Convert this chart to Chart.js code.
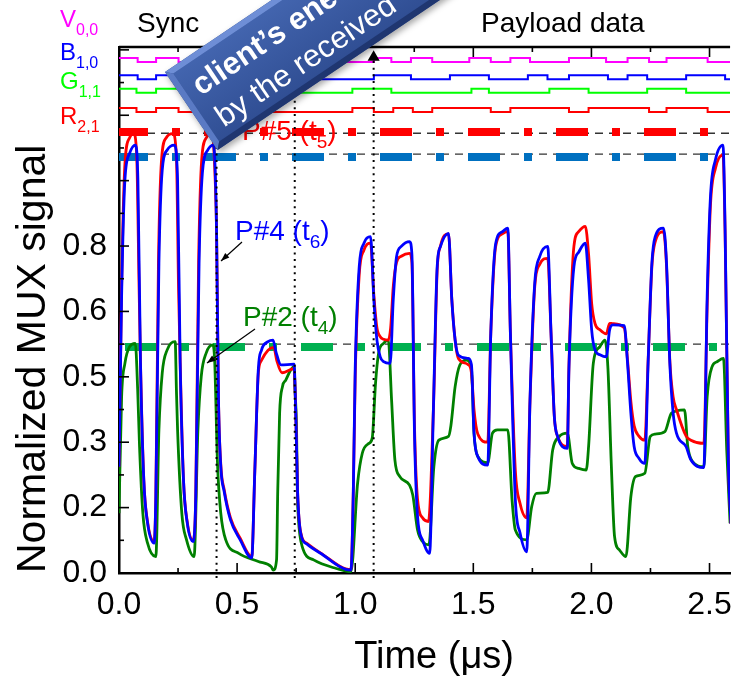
<!DOCTYPE html>
<html>
<head>
<meta charset="utf-8">
<script src="https://cdn.jsdelivr.net/npm/chart.js@4.4.1/dist/chart.umd.min.js"></script>
<style>
  html, body { margin: 0; padding: 0; background: #fff; }
</style>
</head>
<body>
<canvas id="myChart" width="745" height="680"></canvas>
<script>
// 軸刻度
const xTickValues = [0, 0.5, 1.0, 1.5, 2.0, 2.5];
const xTickLabels = ['0.0', '0.5', '1.0', '1.5', '2.0', '2.5'];
const yTickValues = [0, 0.16, 0.32, 0.48, 0.64, 0.80];
const yTickLabels = ['0.0', '0.2', '0.3', '0.5', '0.6', '0.8'];

// 藍色通道 (B) 接收訊號
const blueT = [0, 0.011, 0.025, 0.045, 0.069, 0.080, 0.091, 0.105, 0.121, 0.149, 0.156, 0.169, 0.183, 0.204, 0.234, 0.248, 0.259, 0.273, 0.289, 0.314, 0.325, 0.339, 0.353, 0.376, 0.400, 0.413, 0.421, 0.431, 0.445, 0.472, 0.513, 0.562, 0.575, 0.590, 0.603, 0.631, 0.652, 0.665, 0.686, 0.741, 0.748, 0.756, 0.769, 0.797, 0.851, 0.982, 0.992, 1.000, 1.017, 1.037, 1.065, 1.079, 1.092, 1.106, 1.120, 1.148, 1.161, 1.175, 1.195, 1.230, 1.240, 1.251, 1.264, 1.285, 1.315, 1.331, 1.347, 1.361, 1.395, 1.409, 1.423, 1.437, 1.478, 1.492, 1.503, 1.519, 1.561, 1.574, 1.595, 1.623, 1.646, 1.657, 1.678, 1.698, 1.726, 1.740, 1.760, 1.781, 1.815, 1.829, 1.843, 1.857, 1.898, 1.905, 1.926, 1.946, 1.974, 1.988, 2.001, 2.015, 2.036, 2.063, 2.077, 2.091, 2.139, 2.153, 2.167, 2.181, 2.201, 2.226, 2.240, 2.256, 2.270, 2.305, 2.318, 2.332, 2.346, 2.360, 2.401, 2.421, 2.476, 2.490, 2.504, 2.525, 2.557, 2.566, 2.580, 2.591];
const blueV = [0.26, 0.676, 0.962, 1.027, 1.047, 0.962, 0.514, 0.228, 0.122, 0.073, 0.187, 0.759, 0.986, 1.035, 1.047, 0.962, 0.514, 0.228, 0.122, 0.077, 0.187, 0.759, 0.979, 1.035, 1.047, 0.839, 0.431, 0.26, 0.20, 0.13, 0.081, 0.037, 0.25, 0.50, 0.545, 0.566, 0.570, 0.54, 0.509, 0.511, 0.40, 0.20, 0.098, 0.07, 0.049, 0.007, 0.2, 0.5, 0.75, 0.807, 0.823, 0.668, 0.570, 0.529, 0.517, 0.513, 0.668, 0.774, 0.799, 0.811, 0.78, 0.342, 0.138, 0.081, 0.048, 0.4, 0.75, 0.799, 0.831, 0.668, 0.570, 0.533, 0.525, 0.51, 0.342, 0.285, 0.264, 0.587, 0.807, 0.835, 0.844, 0.587, 0.179, 0.098, 0.052, 0.423, 0.709, 0.774, 0.799, 0.587, 0.383, 0.334, 0.305, 0.505, 0.75, 0.785, 0.807, 0.717, 0.595, 0.546, 0.534, 0.529, 0.595, 0.607, 0.605, 0.513, 0.391, 0.309, 0.281, 0.268, 0.513, 0.758, 0.823, 0.844, 0.758, 0.513, 0.391, 0.342, 0.309, 0.277, 0.258, 0.676, 0.921, 1.011, 1.047, 0.839, 0.268, 0.12];

// 紅色通道 (R) 接收訊號
const redT = [0, 0.011, 0.025, 0.045, 0.062, 0.075, 0.085, 0.091, 0.105, 0.121, 0.149, 0.156, 0.167, 0.180, 0.200, 0.228, 0.243, 0.252, 0.259, 0.273, 0.289, 0.314, 0.325, 0.337, 0.350, 0.370, 0.395, 0.408, 0.413, 0.421, 0.431, 0.445, 0.472, 0.513, 0.562, 0.575, 0.590, 0.603, 0.631, 0.655, 0.668, 0.690, 0.741, 0.748, 0.756, 0.769, 0.797, 0.851, 0.982, 0.992, 1.000, 1.017, 1.037, 1.065, 1.079, 1.092, 1.106, 1.120, 1.140, 1.150, 1.161, 1.175, 1.195, 1.230, 1.240, 1.251, 1.264, 1.285, 1.310, 1.331, 1.347, 1.361, 1.395, 1.409, 1.423, 1.437, 1.478, 1.492, 1.503, 1.519, 1.561, 1.574, 1.595, 1.623, 1.646, 1.657, 1.678, 1.698, 1.726, 1.740, 1.760, 1.781, 1.815, 1.829, 1.843, 1.857, 1.898, 1.905, 1.926, 1.946, 1.974, 1.988, 2.001, 2.015, 2.036, 2.063, 2.077, 2.091, 2.139, 2.153, 2.167, 2.181, 2.201, 2.226, 2.240, 2.256, 2.270, 2.305, 2.318, 2.332, 2.346, 2.360, 2.401, 2.421, 2.476, 2.490, 2.504, 2.525, 2.557, 2.566, 2.580, 2.591];
const redV = [0.26, 0.70, 1.00, 1.065, 1.075, 1.02, 0.70, 0.514, 0.228, 0.125, 0.078, 0.19, 0.76, 1.01, 1.065, 1.075, 1.02, 0.70, 0.514, 0.228, 0.125, 0.08, 0.19, 0.76, 1.01, 1.065, 1.075, 0.95, 0.839, 0.431, 0.265, 0.205, 0.135, 0.085, 0.04, 0.25, 0.49, 0.52, 0.545, 0.552, 0.52, 0.49, 0.50, 0.40, 0.20, 0.10, 0.072, 0.05, 0.008, 0.2, 0.48, 0.73, 0.79, 0.807, 0.68, 0.60, 0.578, 0.572, 0.570, 0.60, 0.70, 0.76, 0.775, 0.782, 0.76, 0.36, 0.18, 0.135, 0.126, 0.40, 0.74, 0.80, 0.83, 0.67, 0.57, 0.525, 0.51, 0.49, 0.40, 0.34, 0.32, 0.587, 0.80, 0.83, 0.836, 0.587, 0.25, 0.17, 0.135, 0.42, 0.70, 0.755, 0.770, 0.587, 0.383, 0.334, 0.31, 0.51, 0.80, 0.835, 0.848, 0.78, 0.66, 0.611, 0.595, 0.585, 0.611, 0.61, 0.60, 0.52, 0.42, 0.36, 0.335, 0.325, 0.52, 0.75, 0.81, 0.835, 0.75, 0.52, 0.431, 0.40, 0.335, 0.325, 0.317, 0.65, 0.90, 0.99, 1.023, 0.83, 0.27, 0.12];

// 綠色通道 (G) 接收訊號
const greenT = [0, 0.011, 0.025, 0.045, 0.069, 0.079, 0.087, 0.101, 0.121, 0.156, 0.169, 0.183, 0.204, 0.238, 0.243, 0.248, 0.266, 0.286, 0.318, 0.334, 0.348, 0.369, 0.397, 0.405, 0.417, 0.431, 0.452, 0.507, 0.590, 0.645, 0.653, 0.667, 0.672, 0.680, 0.692, 0.706, 0.727, 0.741, 0.745, 0.752, 0.755, 0.759, 0.776, 0.824, 0.920, 0.982, 1.010, 1.030, 1.058, 1.072, 1.086, 1.099, 1.120, 1.140, 1.154, 1.168, 1.189, 1.230, 1.244, 1.264, 1.285, 1.312, 1.333, 1.354, 1.395, 1.405, 1.423, 1.443, 1.471, 1.492, 1.503, 1.519, 1.561, 1.581, 1.602, 1.646, 1.664, 1.678, 1.726, 1.747, 1.767, 1.815, 1.836, 1.864, 1.898, 1.919, 1.946, 1.978, 1.988, 2.008, 2.036, 2.057, 2.070, 2.084, 2.098, 2.119, 2.146, 2.167, 2.187, 2.226, 2.249, 2.270, 2.311, 2.339, 2.394, 2.408, 2.429, 2.476, 2.490, 2.511, 2.532, 2.559, 2.573, 2.587];
const greenV = [0.146, 0.431, 0.513, 0.554, 0.562, 0.45, 0.309, 0.146, 0.073, 0.040, 0.350, 0.489, 0.546, 0.566, 0.45, 0.350, 0.146, 0.081, 0.040, 0.350, 0.480, 0.538, 0.558, 0.52, 0.268, 0.146, 0.081, 0.048, 0.028, 0.015, 0.007, 0.032, 0.20, 0.391, 0.456, 0.472, 0.497, 0.505, 0.45, 0.342, 0.20, 0.138, 0.064, 0.032, 0.011, 0.003, 0.219, 0.293, 0.317, 0.330, 0.464, 0.538, 0.562, 0.570, 0.423, 0.277, 0.236, 0.215, 0.19, 0.105, 0.077, 0.069, 0.26, 0.325, 0.334, 0.36, 0.456, 0.509, 0.521, 0.50, 0.342, 0.285, 0.27, 0.342, 0.350, 0.350, 0.179, 0.105, 0.081, 0.162, 0.195, 0.197, 0.301, 0.334, 0.342, 0.268, 0.256, 0.252, 0.309, 0.513, 0.554, 0.570, 0.50, 0.268, 0.089, 0.056, 0.040, 0.187, 0.236, 0.244, 0.334, 0.340, 0.346, 0.391, 0.399, 0.309, 0.272, 0.260, 0.431, 0.505, 0.517, 0.525, 0.30, 0.122];

// 頂部數位位元 (轉換時間與位準)
const bitEdgesV = [0, 0.079, 0.157, 0.252, 1.079, 1.153, 1.236, 1.326, 1.483, 1.574, 1.657, 1.740, 1.905, 2.062, 2.153, 2.244, 2.318, 2.492];
const bitsV     = [1, 0, 1, 0, 1, 0, 1, 0, 1, 0, 1, 0, 1, 0, 1, 0, 1, 0];
const bitEdgesB = [0, 0.079, 0.157, 0.335, 1.079, 1.236, 1.401, 1.566, 1.731, 1.814, 1.905, 2.070, 2.153, 2.236, 2.401, 2.566];
const bitsB     = [1, 0, 1, 0, 1, 0, 1, 0, 1, 0, 1, 0, 1, 0, 1, 0];
const bitEdgesG = [0, 0.074, 0.157, 0.335, 0.988, 1.153, 1.492, 1.566, 1.822, 1.988, 2.236, 2.401];
const bitsG     = [1, 0, 1, 0, 1, 0, 1, 0, 1, 0, 1, 0];
const bitEdgesR = [0, 0.074, 0.157, 0.252, 0.988, 1.079, 1.161, 1.244, 1.326, 1.574, 1.657, 1.905, 1.988, 2.244, 2.318, 2.492];
const bitsR     = [1, 0, 1, 0, 1, 0, 1, 0, 1, 0, 1, 0, 1, 0, 1, 0];

// 判決門檻與標記時間
const thresholdLevels = [1.076, 1.025, 0.560];
const decisionLevels = [1.079, 1.018, 0.553];
const markerTimes = [0.413, 0.744, 1.078];

const X_MAX = 2.587;
const Y_MAX = 1.287;
const FONT = 'Liberation Sans, Arial, sans-serif';

function pts(ts, vs) {
  return ts.map((t, i) => ({ x: t, y: vs[i] }));
}
function bitPts(edges, bits, base) {
  const p = edges.map((t, i) => ({ x: t, y: base + bits[i] * 0.0098 }));
  p.push({ x: X_MAX, y: p[p.length - 1].y });
  return p;
}
function flat(y) {
  return [{ x: 0, y: y }, { x: X_MAX, y: y }];
}

const curve = (data, color, order) => ({
  data: data, showLine: true, borderColor: color, borderWidth: 2.8,
  pointRadius: 0, cubicInterpolationMode: 'monotone', order: order
});
const bitLine = (data, color) => ({
  data: data, showLine: true, stepped: true, borderColor: color, borderWidth: 2,
  pointRadius: 0, order: 8
});
const decision = (y, color, offset) => ({
  data: flat(y), showLine: true, borderColor: color, borderWidth: 8,
  borderDash: [32, 24, 8, 24], borderDashOffset: offset, borderCapStyle: 'butt',
  pointRadius: 0, order: 6
});

const datasets = [
  // 垂直標記線
  ...markerTimes.map((t, i) => ({
    data: [{ x: t, y: -0.012 }, { x: t, y: i === 2 ? 1.262 : 1.158 }],
    showLine: true, borderColor: '#000', borderWidth: 2, borderDash: [2, 4.6],
    pointRadius: i === 2 ? [0, 5] : 0, pointStyle: 'triangle',
    pointBackgroundColor: '#000', pointBorderColor: '#000', clip: false, order: 0
  })),
  curve(pts(blueT, blueV), '#0000FF', 1),
  curve(pts(redT, redV), '#FF0000', 2),
  curve(pts(greenT, greenV), '#008000', 3),
  decision(decisionLevels[0], '#FF0000', 3),
  decision(decisionLevels[1], '#0070C0', 3),
  decision(decisionLevels[2], '#00B050', 82),
  ...thresholdLevels.map(y => ({
    data: flat(y), showLine: true, borderColor: '#333', borderWidth: 1.4,
    borderDash: [8, 6], pointRadius: 0, order: 7
  })),
  bitLine(bitPts(bitEdgesV, bitsV, 1.250), '#FF00FF'),
  bitLine(bitPts(bitEdgesB, bitsB, 1.208), '#0000FF'),
  bitLine(bitPts(bitEdgesG, bitsG, 1.175), '#00FF00'),
  bitLine(bitPts(bitEdgesR, bitsR, 1.128), '#FF0000')
];

function lab(values, labels, v) {
  const i = values.findIndex(x => Math.abs(x - v) < 1e-6);
  return i >= 0 ? labels[i] : '';
}

// 文字片段 (含下標)
function runs(ctx, x, y, parts, color) {
  ctx.fillStyle = color;
  ctx.textBaseline = 'alphabetic';
  ctx.textAlign = 'left';
  parts.forEach(p => {
    ctx.font = (p.b ? 'bold ' : '') + p.s + 'px ' + FONT;
    ctx.fillText(p.t, x, y + (p.dy || 0));
    x += ctx.measureText(p.t).width;
  });
}
function arrow(ctx, x1, y1, x2, y2) {
  const a = Math.atan2(y2 - y1, x2 - x1);
  ctx.strokeStyle = '#000';
  ctx.fillStyle = '#000';
  ctx.lineWidth = 1.2;
  ctx.beginPath(); ctx.moveTo(x1, y1); ctx.lineTo(x2, y2); ctx.stroke();
  ctx.beginPath();
  ctx.moveTo(x2, y2);
  ctx.lineTo(x2 - 9 * Math.cos(a - 0.35), y2 - 9 * Math.sin(a - 0.35));
  ctx.lineTo(x2 - 9 * Math.cos(a + 0.35), y2 - 9 * Math.sin(a + 0.35));
  ctx.closePath(); ctx.fill();
}

const decor = {
  id: 'decor',
  afterDatasetsDraw(chart) {
    const ctx = chart.ctx, a = chart.chartArea;
    const xs = chart.scales.x, ys = chart.scales.y;
    ctx.save();
    ctx.strokeStyle = '#000';
    ctx.lineWidth = 2.5;
    ctx.beginPath(); ctx.moveTo(a.left, a.top); ctx.lineTo(a.right, a.top); ctx.stroke();
    ctx.lineWidth = 1.6;
    xs.ticks.forEach((t, i) => {
      const px = xs.getPixelForValue(t.value);
      const len = i % 2 === 0 ? 10 : 5;
      ctx.beginPath();
      ctx.moveTo(px, a.bottom); ctx.lineTo(px, a.bottom - len);
      ctx.moveTo(px, a.top); ctx.lineTo(px, a.top + len);
      ctx.stroke();
    });
    ys.ticks.forEach((t, i) => {
      const py = ys.getPixelForValue(t.value);
      const len = i % 2 === 0 ? 10 : 5;
      ctx.beginPath(); ctx.moveTo(a.left, py); ctx.lineTo(a.left + len, py); ctx.stroke();
    });
    ctx.restore();
  },
  afterDraw(chart) {
    const ctx = chart.ctx;
    ctx.save();
    // 區段標題
    runs(ctx, 137, 32, [{ t: 'Sync', s: 28 }], '#000');
    runs(ctx, 481, 32, [{ t: 'Payload data', s: 28 }], '#000');
    // 左側通道標示
    runs(ctx, 60, 27, [{ t: 'V', s: 24 }, { t: '0,0', s: 16, dy: 8 }], '#FF00FF');
    runs(ctx, 60, 60, [{ t: 'B', s: 24 }, { t: '1,0', s: 16, dy: 8 }], '#0000FF');
    runs(ctx, 60, 89, [{ t: 'G', s: 24 }, { t: '1,1', s: 16, dy: 8 }], '#00FF00');
    runs(ctx, 60, 124, [{ t: 'R', s: 24 }, { t: '2,1', s: 16, dy: 8 }], '#FF0000');
    // 點標註
    runs(ctx, 242, 140, [{ t: 'P#5 (t', s: 28 }, { t: '5', s: 19, dy: 8 }, { t: ')', s: 28 }], '#FF0000');
    runs(ctx, 235, 240, [{ t: 'P#4 (t', s: 28 }, { t: '6', s: 19, dy: 8 }, { t: ')', s: 28 }], '#0000FF');
    runs(ctx, 243, 326, [{ t: 'P#2 (t', s: 28 }, { t: '4', s: 19, dy: 8 }, { t: ')', s: 28 }], '#008000');
    arrow(ctx, 242, 242, 221, 261);
    arrow(ctx, 255, 329, 207, 363);

    // 斜向說明框
    ctx.translate(165, 72);
    ctx.rotate(-34 * Math.PI / 180);
    ctx.shadowColor = 'rgba(0,0,0,0.35)';
    ctx.shadowBlur = 6;
    ctx.shadowOffsetX = 2;
    ctx.shadowOffsetY = 3;
    ctx.fillStyle = '#2C4A8E';
    ctx.fillRect(0, 0, 700, 94);
    ctx.shadowColor = 'transparent';
    const g = ctx.createLinearGradient(0, 0, 0, 94);
    g.addColorStop(0, '#4466B0');
    g.addColorStop(1, '#2F4D92');
    ctx.fillStyle = g;
    ctx.fillRect(6, 6, 694, 82);
    ctx.fillStyle = '#6E8ED6';
    ctx.beginPath(); ctx.moveTo(0, 0); ctx.lineTo(700, 0); ctx.lineTo(700, 6); ctx.lineTo(6, 6); ctx.closePath(); ctx.fill();
    ctx.fillStyle = '#5A7AC4';
    ctx.beginPath(); ctx.moveTo(0, 0); ctx.lineTo(6, 6); ctx.lineTo(6, 88); ctx.lineTo(0, 94); ctx.closePath(); ctx.fill();
    ctx.fillStyle = '#1F3670';
    ctx.beginPath(); ctx.moveTo(0, 94); ctx.lineTo(6, 88); ctx.lineTo(700, 88); ctx.lineTo(700, 94); ctx.closePath(); ctx.fill();
    runs(ctx, 16, 40, [{ t: 'client\u2019s ene', s: 31, b: true }], '#FFFFFF');
    runs(ctx, 18, 79, [{ t: 'by the received', s: 31 }], '#FFFFFF');
    ctx.restore();
  }
};

const xTickAll = [0, 0.25, 0.5, 0.75, 1.0, 1.25, 1.5, 1.75, 2.0, 2.25, 2.5];
const yTickAll = [];
for (let i = 0; i <= 16; i++) yTickAll.push(+(i * 0.08).toFixed(2));

const ctx = document.getElementById('myChart').getContext('2d');
const myChart = new Chart(ctx, {
  type: 'scatter',
  data: { datasets: datasets },
  options: {
    responsive: false,
    animation: false,
    devicePixelRatio: 1,
    layout: { padding: { top: 47, right: 0, left: 0, bottom: 0 } },
    plugins: { legend: { display: false }, tooltip: { enabled: false } },
    scales: {
      x: {
        type: 'linear', min: 0, max: X_MAX,
        grid: { display: false, drawTicks: false },
        border: { color: '#000', width: 2.5 },
        afterBuildTicks: s => { s.ticks = xTickAll.map(v => ({ value: v })); },
        afterFit: s => { s.height = 107; },
        ticks: {
          autoSkip: false, maxRotation: 0, padding: 13, color: '#000',
          font: { family: FONT, size: 32 },
          callback: v => lab(xTickValues, xTickLabels, v)
        },
        title: {
          display: true, text: '\u2002Time (\u03bcs)', color: '#000',
          font: { family: FONT, size: 38 }, padding: { top: 0, bottom: 0 }
        }
      },
      y: {
        type: 'linear', min: 0, max: Y_MAX,
        grid: { display: false, drawTicks: false },
        border: { color: '#000', width: 2.5 },
        afterBuildTicks: s => { s.ticks = yTickAll.map(v => ({ value: v })); },
        afterFit: s => { s.width = 119; },
        ticks: {
          autoSkip: false, padding: 12, color: '#000',
          font: { family: FONT, size: 32 },
          callback: v => lab(yTickValues, yTickLabels, v)
        },
        title: {
          display: true, text: 'Normalized MUX signal', color: '#000', align: 'start',
          font: { family: FONT, size: 41 }, padding: { top: 9, bottom: 0 }
        }
      }
    }
  },
  plugins: [decor]
});
</script>
</body>
</html>
